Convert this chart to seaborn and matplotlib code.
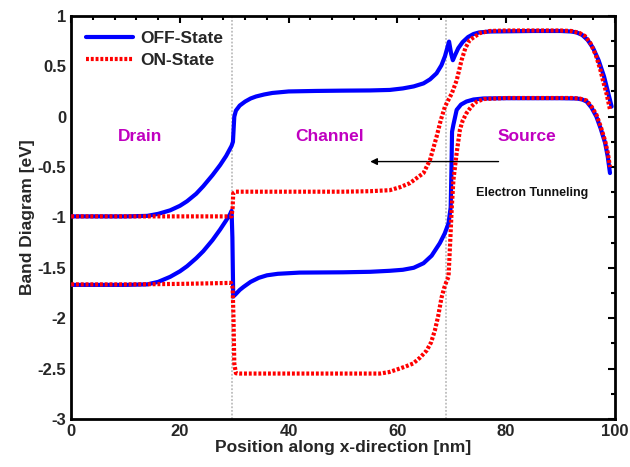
import numpy as np
import pandas as pd
import matplotlib
matplotlib.use("Agg")
import matplotlib.pyplot as plt
import seaborn as sns
from matplotlib.ticker import MultipleLocator

# ---- data ----
off_cb_x = [0, 5, 10, 14, 16, 18.2, 20, 21.3, 23, 24.3, 26, 27.4, 28.5, 29.5, 29.75, 29.9, 30.0, 30.3, 31, 32, 33, 34, 35.5, 37, 40, 45, 50, 55, 58.6, 61, 63, 64.8, 66, 67.2, 68.1, 68.75, 69.5, 69.9, 70.2, 70.6, 71.2, 72, 73, 74, 75, 77, 85, 90, 92, 93, 94, 95, 96, 97, 98, 98.7, 99.4]
off_cb_y = [-0.99, -0.99, -0.99, -0.985, -0.965, -0.93, -0.885, -0.84, -0.765, -0.69, -0.58, -0.48, -0.39, -0.29, -0.25, -0.1, 0.0, 0.06, 0.11, 0.15, 0.18, 0.2, 0.22, 0.235, 0.25, 0.255, 0.258, 0.26, 0.265, 0.28, 0.30, 0.33, 0.37, 0.43, 0.51, 0.6, 0.745, 0.62, 0.56, 0.61, 0.68, 0.74, 0.79, 0.82, 0.835, 0.845, 0.85, 0.85, 0.845, 0.835, 0.81, 0.76, 0.68, 0.56, 0.40, 0.25, 0.10]

on_cb_x = [0, 10, 20, 29.5, 29.7, 29.8, 30.2, 40, 50, 55, 58.6, 60.5, 62.3, 64.8, 66, 67.2, 68.0, 68.75, 70, 70.9, 71.8, 72.5, 73.3, 75.2, 77, 80, 90, 92, 93.5, 94.5, 95.5, 96.5, 97.3, 97.8, 98.5, 99.1]
on_cb_y = [-0.99, -0.99, -0.99, -0.99, -0.9, -0.76, -0.745, -0.745, -0.745, -0.74, -0.73, -0.70, -0.66, -0.56, -0.43, -0.2, -0.03, 0.1, 0.23, 0.36, 0.56, 0.68, 0.76, 0.83, 0.85, 0.855, 0.855, 0.85, 0.83, 0.80, 0.73, 0.61, 0.47, 0.36, 0.22, 0.07]

off_vb_x = [0, 5, 10, 14, 16, 18.2, 20, 21.3, 23, 24.3, 26, 27.4, 28.5, 29.2, 29.5, 29.65, 29.8, 30.3, 31, 31.7, 33, 34.5, 36, 38, 42, 50, 55, 58.6, 61, 63, 64.8, 66.3, 67.8, 68.7, 69.4, 69.8, 69.95, 70.05, 70.3, 70.9, 71.7, 72.7, 74, 75.8, 80, 90, 93, 94, 94.8, 95.7, 96.6, 97.4, 98.2, 98.7, 99.1]
off_vb_y = [-1.67, -1.67, -1.67, -1.665, -1.64, -1.59, -1.535, -1.485, -1.405, -1.335, -1.225, -1.12, -1.03, -0.97, -0.935, -1.2, -1.786, -1.76, -1.72, -1.69, -1.64, -1.60, -1.575, -1.56, -1.548, -1.545, -1.54, -1.53, -1.52, -1.50, -1.455, -1.38, -1.256, -1.16, -1.06, -0.9, -0.5, -0.15, -0.08, 0.067, 0.12, 0.15, 0.17, 0.18, 0.183, 0.183, 0.18, 0.17, 0.15, 0.09, 0.0, -0.12, -0.26, -0.4, -0.56]

on_vb_x = [0, 5, 10, 15, 20, 25, 29.4, 29.7, 29.85, 30.0, 30.3, 31, 45, 56.8, 58.5, 59.9, 61.5, 62.9, 64.2, 65.4, 66.2, 66.9, 67.5, 68.1, 68.6, 69.0, 69.4, 69.7, 70.0, 70.3, 70.9, 71.5, 72.0, 72.7, 73.6, 74.6, 76, 80, 92, 93.5, 94.8, 95.7, 96.6, 97.4, 98.2, 98.7, 99.1]
on_vb_y = [-1.665, -1.665, -1.665, -1.663, -1.66, -1.655, -1.65, -1.7, -2.0, -2.45, -2.547, -2.55, -2.55, -2.55, -2.535, -2.51, -2.48, -2.45, -2.39, -2.32, -2.24, -2.12, -1.98, -1.8, -1.7, -1.64, -1.59, -1.256, -0.9, -0.63, -0.36, -0.13, -0.04, 0.034, 0.1, 0.15, 0.175, 0.185, 0.185, 0.18, 0.16, 0.1, 0.02, -0.1, -0.24, -0.36, -0.5]

x_ticks = [0, 20, 40, 60, 80, 100]
y_ticks = [-3, -2.5, -2, -1.5, -1, -0.5, 0, 0.5, 1]
y_tick_labels = ["-3", "-2.5", "-2", "-1.5", "-1", "-0.5", "0", "0.5", "1"]
boundaries = [29.6, 69.0]
region_labels = ["Drain", "Channel", "Source"]
region_label_x = [12.7, 47.6, 83.8]

# ---- plotting ----
sns.set_style("white")
plt.rcParams["font.family"] = ["Liberation Sans", "DejaVu Sans"]
plt.rcParams["font.weight"] = "bold"

fig = plt.figure(figsize=(6.3, 4.67), dpi=100)
ax = fig.add_axes([0.113, 0.103, 0.863, 0.863])

for b in boundaries:
    ax.axvline(b, color="#bdbdbd", linestyle=(0, (1, 1)), linewidth=1.3, zorder=1)

blue = "#0000ff"
red = "#ff0000"
dots = (0, (0.7, 0.45))

df_off_cb = pd.DataFrame({"x": off_cb_x, "y": off_cb_y})
df_on_cb = pd.DataFrame({"x": on_cb_x, "y": on_cb_y})
df_off_vb = pd.DataFrame({"x": off_vb_x, "y": off_vb_y})
df_on_vb = pd.DataFrame({"x": on_vb_x, "y": on_vb_y})

sns.lineplot(data=df_off_cb, x="x", y="y", ax=ax, sort=False, estimator=None,
             color=blue, linewidth=3, label="OFF-State", zorder=3)
sns.lineplot(data=df_off_vb, x="x", y="y", ax=ax, sort=False, estimator=None,
             color=blue, linewidth=3, zorder=3)
sns.lineplot(data=df_on_cb, x="x", y="y", ax=ax, sort=False, estimator=None,
             color=red, linewidth=3, linestyle=dots, label="ON-State", zorder=4)
sns.lineplot(data=df_on_vb, x="x", y="y", ax=ax, sort=False, estimator=None,
             color=red, linewidth=3, linestyle=dots, zorder=4)

for lab, lx in zip(region_labels, region_label_x):
    ax.text(lx, -0.2, lab, color="#c000c0", fontsize=12.5, fontweight="bold",
            ha="center", va="center")

ax.annotate("", xy=(55, -0.446), xytext=(78.6, -0.446),
            arrowprops=dict(arrowstyle="-|>", color="black", lw=1.0,
                            mutation_scale=10, shrinkA=0, shrinkB=0))
ax.text(84.7, -0.76, "Electron Tunneling", fontsize=9, fontweight="bold",
        ha="center", va="center", color="#111111")

ax.set_xlim(0, 100)
ax.set_ylim(-3, 1)
ax.set_xticks(x_ticks)
ax.set_yticks(y_ticks)
ax.set_yticklabels(y_tick_labels)
ax.xaxis.set_minor_locator(MultipleLocator(4))
ax.yaxis.set_minor_locator(MultipleLocator(0.25))
ax.tick_params(which="both", direction="in", top=True, right=True,
               labelsize=12, width=1.5, color="black")
ax.tick_params(which="major", length=5)
ax.tick_params(which="minor", length=3)
for lbl in ax.get_xticklabels() + ax.get_yticklabels():
    lbl.set_fontweight("bold")

ax.set_xlabel("Position along x-direction [nm]", fontsize=12.5, fontweight="bold", labelpad=1)
ax.set_ylabel("Band Diagram [eV]", fontsize=12.5, fontweight="bold", labelpad=2)

for s in ax.spines.values():
    s.set_color("black")
    s.set_linewidth(2)

leg = ax.legend(loc="upper left", frameon=False, fontsize=12.5, handlelength=2.7,
                borderaxespad=0.45, labelspacing=0.4, handletextpad=0.4)
for t in leg.get_texts():
    t.set_fontweight("bold")

fig.savefig("out.png", dpi=100)
